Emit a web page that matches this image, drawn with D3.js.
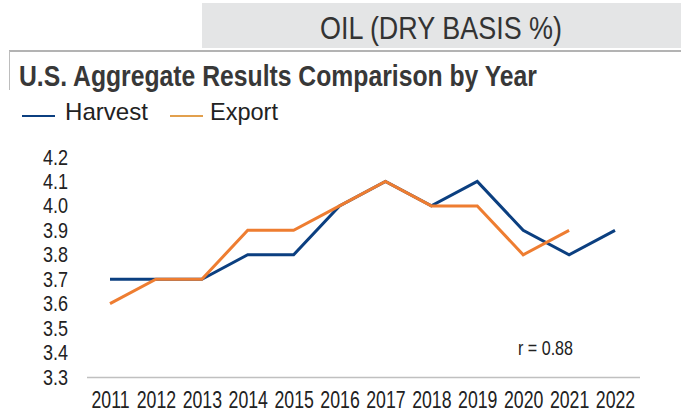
<!DOCTYPE html>
<html>
<head>
<meta charset="utf-8">
<script src="https://cdn.jsdelivr.net/npm/d3@7"></script>
<style>
  html, body { margin: 0; padding: 0; background: #fff; }
  svg { display: block; }
  text { font-family: "Liberation Sans", Arial, sans-serif; fill: #222; }
</style>
</head>
<body>
<svg id="chart" width="681" height="416"></svg>
<script>
// Oil (dry basis %) by crop year
const years = ["2011","2012","2013","2014","2015","2016","2017","2018","2019","2020","2021","2022"];
const harvest = [3.7, 3.7, 3.7, 3.8, 3.8, 4.0, 4.1, 4.0, 4.1, 3.9, 3.8, 3.9];
const exportVals = [3.6, 3.7, 3.7, 3.9, 3.9, 4.0, 4.1, 4.0, 4.0, 3.8, 3.9];
const yTicks = [3.3, 3.4, 3.5, 3.6, 3.7, 3.8, 3.9, 4.0, 4.1, 4.2];
const seriesNames = ["Harvest", "Export"];
const correlation = "r = 0.88";

const colors = { Harvest: "#0b3f80", Export: "#ee7d31", ExportKey: "#e2a04e" };

const svg = d3.select("#chart");

// Squeeze text horizontally to a condensed width
function squeeze(sel, width) {
  sel.attr("textLength", width).attr("lengthAdjust", "spacingAndGlyphs");
}

// Header band
svg.append("rect").attr("x", 202).attr("y", 3).attr("width", 479).attr("height", 45).attr("fill", "#e4e5e6");
svg.append("text").attr("x", 441).attr("y", 39).attr("text-anchor", "middle")
  .style("font-size", "32px").style("fill", "#333").text("OIL (DRY BASIS %)")
  .call(squeeze, 242);

// Panel frame
svg.append("line").attr("x1", 9).attr("x2", 681).attr("y1", 51).attr("y2", 51)
  .attr("stroke", "#9a9a9a").attr("stroke-width", 1.5);
svg.append("line").attr("x1", 9.5).attr("x2", 9.5).attr("y1", 51).attr("y2", 90)
  .attr("stroke", "#bdbdbd").attr("stroke-width", 1);

svg.append("text").attr("x", 19).attr("y", 86)
  .style("font-size", "29px").style("font-weight", "bold").style("fill", "#383838")
  .text("U.S. Aggregate Results Comparison by Year")
  .call(squeeze, 518);

// Legend
const legendPos = [{ x: 22, tx: 65, w: 83 }, { x: 170, tx: 210, w: 68 }];
seriesNames.forEach((name, i) => {
  const g = svg.append("g");
  g.append("line").attr("x1", legendPos[i].x).attr("x2", legendPos[i].x + 33)
    .attr("y1", 116).attr("y2", 116)
    .attr("stroke", i === 0 ? colors.Harvest : colors.ExportKey).attr("stroke-width", 2);
  g.append("text").attr("x", legendPos[i].tx).attr("y", 120)
    .style("font-size", "24px").style("fill", "#222").text(name)
    .call(squeeze, legendPos[i].w);
});

// Scales
const x = d3.scalePoint().domain(years).range([110, 615]);
const y = d3.scaleLinear().domain([3.3, 4.2]).range([377, 157]);

// Y axis labels (condensed by a horizontal scale about the axis)
const yAxis = d3.axisLeft(y).tickValues(yTicks).tickFormat(d3.format(".1f")).tickSize(0).tickPadding(0);
const yg = svg.append("g").attr("transform", "translate(68,0)").call(yAxis);
yg.select(".domain").remove();
yg.selectAll("text").style("font-size", "22px").style("fill", "#222")
  .style("font-family", "\"Liberation Sans\", Arial, sans-serif")
  .attr("transform", "scale(0.82,1)");

// X axis (labels condensed about each tick centre)
const xAxis = d3.axisBottom(x).tickSize(0).tickPadding(15);
const xg = svg.append("g").attr("transform", "translate(0,377)").call(xAxis);
xg.select(".domain").attr("d", "M87,0.5H640").attr("stroke", "#c0c0c0").attr("stroke-width", 1.5);
xg.selectAll("text").style("font-size", "23px").style("fill", "#222")
  .style("font-family", "\"Liberation Sans\", Arial, sans-serif")
  .attr("transform", "scale(0.77,1)");

// Lines
const line = d3.line().x((d, i) => x(years[i])).y(d => y(d));
svg.append("path").datum(harvest).attr("d", line).attr("fill", "none")
  .attr("stroke", colors.Harvest).attr("stroke-width", 3).attr("stroke-linejoin", "miter");
svg.append("path").datum(exportVals).attr("d", line).attr("fill", "none")
  .attr("stroke", colors.Export).attr("stroke-width", 3).attr("stroke-linejoin", "miter");

// Correlation note
svg.append("text").attr("x", 518).attr("y", 355)
  .style("font-size", "20px").style("fill", "#222").text(correlation)
  .call(squeeze, 55);
</script>
</body>
</html>
